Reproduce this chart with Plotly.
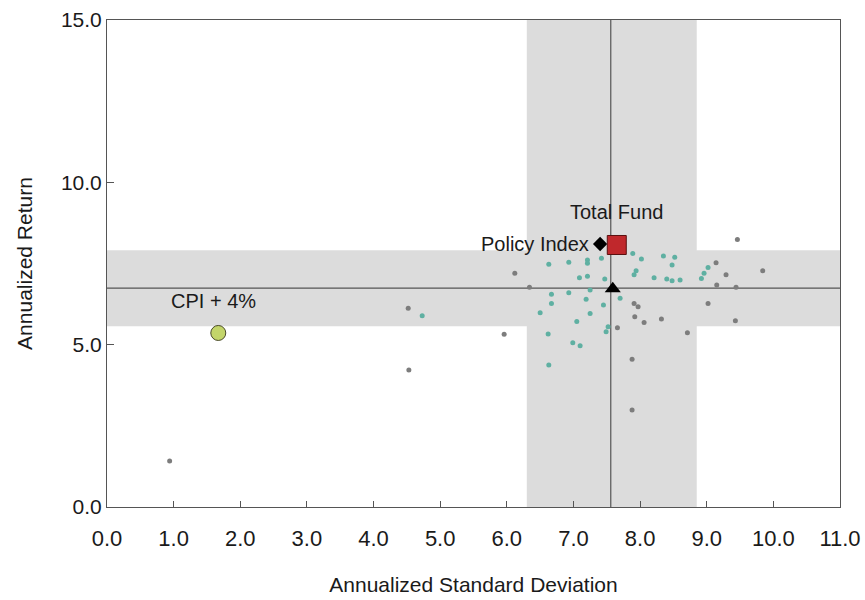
import plotly.graph_objects as go

# Universe points (annualized std dev, annualized return)
teal_x = [7.89, 8.02, 8.35, 8.52, 8.48, 9.02, 6.63, 6.93, 7.21, 7.21, 7.42, 7.09, 7.21, 7.47, 7.91, 7.94,
          8.21, 8.40, 8.48, 8.60, 8.92, 8.96, 6.67, 6.67, 6.93, 7.19, 7.25, 6.50, 7.25, 7.05, 7.45, 7.70,
          6.62, 7.52, 7.49, 6.99, 7.10, 6.63, 4.73]
teal_y = [7.81, 7.64, 7.73, 7.69, 7.45, 7.38, 7.48, 7.54, 7.61, 7.51, 7.66, 7.06, 7.11, 7.02, 7.15, 7.28,
          7.06, 7.02, 6.97, 6.99, 7.04, 7.20, 6.55, 6.27, 6.60, 6.40, 6.68, 5.98, 5.96, 5.71, 6.22, 6.43,
          5.33, 5.55, 5.40, 5.06, 4.97, 4.37, 5.89]
gray_x = [9.46, 9.14, 9.29, 9.84, 6.12, 6.34, 9.15, 9.44, 7.91, 7.97, 7.92, 8.06, 8.32, 9.02, 9.43, 7.66,
          8.71, 5.96, 7.88, 7.88, 4.52, 4.53, 0.94]
gray_y = [8.24, 7.52, 7.15, 7.28, 7.20, 6.77, 6.84, 6.77, 6.27, 6.17, 5.86, 5.68, 5.79, 6.27, 5.74, 5.52,
          5.37, 5.32, 4.55, 2.99, 6.12, 4.22, 1.42]

# Highlighted portfolios
total_fund = (7.65, 8.07)
policy_index = (7.40, 8.10)
median_marker = (7.59, 6.72)
cpi_plus4 = (1.67, 5.36)

# Interquartile bands and medians
sd_band = (6.30, 8.85)
ret_band = (5.57, 7.91)
sd_median = 7.56
ret_median = 6.74

x_ticks = [0, 1, 2, 3, 4, 5, 6, 7, 8, 9, 10, 11]
y_ticks = [0, 5, 10, 15]

FONT = "Liberation Sans, Arial, sans-serif"
TXT = "#1a1a1a"

fig = go.Figure()

fig.add_trace(go.Scatter(x=gray_x, y=gray_y, mode="markers",
                         marker=dict(size=5, color="#7d7d7d"), showlegend=False, hoverinfo="x+y"))
fig.add_trace(go.Scatter(x=teal_x, y=teal_y, mode="markers",
                         marker=dict(size=5, color="#5fb0a2"), showlegend=False, hoverinfo="x+y"))

fig.add_trace(go.Scatter(x=[median_marker[0]], y=[median_marker[1]], mode="markers",
                         marker=dict(symbol="triangle-up", size=14, color="black"), showlegend=False))
fig.add_trace(go.Scatter(x=[policy_index[0]], y=[policy_index[1]], mode="markers",
                         marker=dict(symbol="diamond", size=11, color="black"), showlegend=False))
fig.add_trace(go.Scatter(x=[total_fund[0]], y=[total_fund[1]], mode="markers",
                         marker=dict(symbol="square", size=19, color="#c0282c",
                                     line=dict(color="#5a1010", width=1)), showlegend=False))
fig.add_trace(go.Scatter(x=[cpi_plus4[0]], y=[cpi_plus4[1]], mode="markers",
                         marker=dict(symbol="circle", size=15, color="#c3d56a",
                                     line=dict(color="#4a4a2a", width=1)), showlegend=False))

fig.add_annotation(x=total_fund[0], y=total_fund[1], text="Total Fund", showarrow=False,
                   xanchor="center", yanchor="middle", yshift=33, xshift=0,
                   font=dict(size=20, color=TXT, family=FONT))
fig.add_annotation(x=policy_index[0], y=policy_index[1], text="Policy Index", showarrow=False,
                   xanchor="right", yanchor="middle", xshift=-9, yshift=0,
                   font=dict(size=20, color=TXT, family=FONT))
fig.add_annotation(x=cpi_plus4[0], y=cpi_plus4[1], text="CPI + 4%", showarrow=False,
                   xanchor="center", yanchor="middle", xshift=-5, yshift=32,
                   font=dict(size=20, color=TXT, family=FONT))

# bands
fig.add_shape(type="rect", xref="x", yref="paper", x0=sd_band[0], x1=sd_band[1], y0=0, y1=1,
              fillcolor="#dcdcdc", line=dict(width=0), layer="below")
fig.add_shape(type="rect", xref="paper", yref="y", x0=0, x1=1, y0=ret_band[0], y1=ret_band[1],
              fillcolor="#dcdcdc", line=dict(width=0), layer="below")
fig.add_shape(type="line", xref="x", yref="paper", x0=sd_median, x1=sd_median, y0=0, y1=1,
              line=dict(color="#555555", width=1.2), layer="below")
fig.add_shape(type="line", xref="paper", yref="y", x0=0, x1=1, y0=ret_median, y1=ret_median,
              line=dict(color="#555555", width=1.2), layer="below")

fig.update_layout(
    width=865, height=600,
    margin=dict(l=107, r=25, t=20, b=93),
    paper_bgcolor="white", plot_bgcolor="white",
    font=dict(family=FONT, size=20, color=TXT),
    xaxis=dict(range=[0, 11], tickvals=x_ticks, ticktext=[f"{v:.1f}" for v in x_ticks],
               showgrid=False, zeroline=False, showline=True, linecolor="#555", linewidth=1,
               mirror=True, ticks="inside", ticklen=6, tickcolor="#555", automargin=False,
               ticklabelstandoff=12,
               title=dict(text="Annualized Standard Deviation", font=dict(size=21), standoff=26),
               tickfont=dict(size=22)),
    yaxis=dict(range=[0, 15], tickvals=y_ticks, ticktext=[f"{v:.1f}" for v in y_ticks],
               showgrid=False, zeroline=False, showline=True, linecolor="#555", linewidth=1,
               mirror=True, ticks="inside", ticklen=7, tickcolor="#555", automargin=False,
               title=dict(text="Annualized Return", font=dict(size=21), standoff=22),
               tickfont=dict(size=21)),
)

fig.write_html("out.html", config={"displayModeBar": False},
               post_script="document.body.style.margin='0';document.body.style.overflow='hidden';")
